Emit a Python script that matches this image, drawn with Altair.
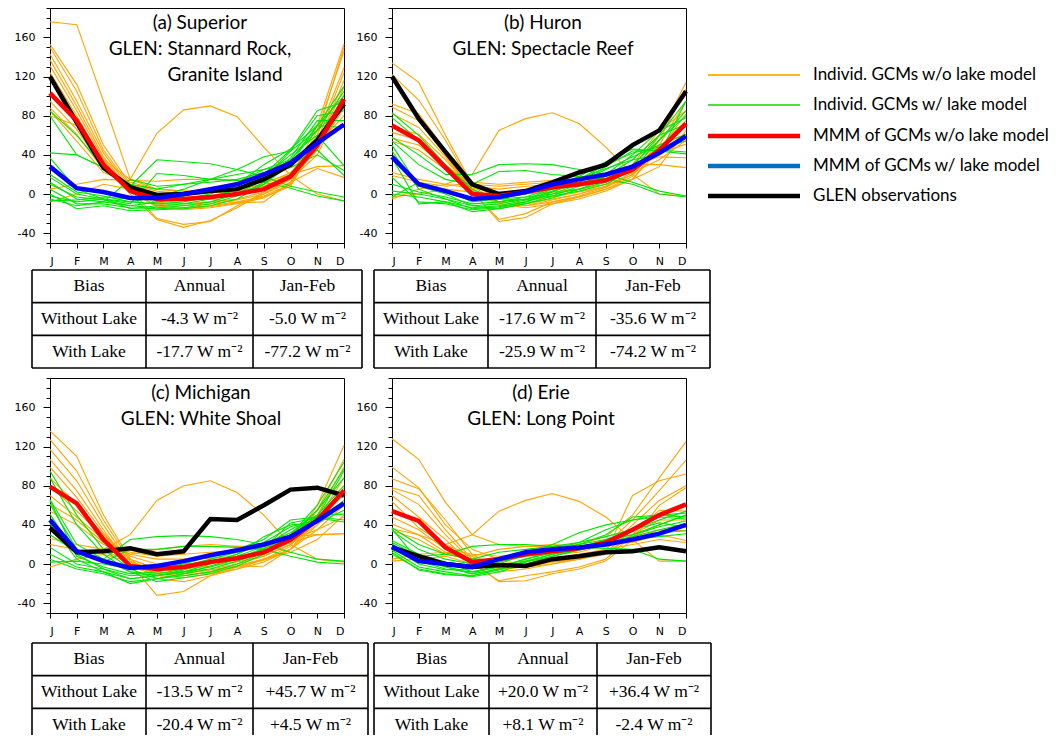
import json
import altair as alt
import pandas as pd

MONTH_LABELS = ["J", "F", "M", "A", "M", "J", "J", "A", "S", "O", "N", "D"]

# ---------------- (a) Superior ----------------
SUP_NOLAKE_GCMS = [
    [176, 173, 95, 15, 5, 3, 2, 0, 5, 20, 60, 150],
    [153, 112, 50, 10, -5, -10, -8, -5, 2, 15, 70, 153],
    [150, 105, 45, 8, -8, -12, -10, -6, 0, 12, 65, 146],
    [143, 95, 42, 5, -10, -14, -12, -8, -2, 10, 60, 129],
    [137, 90, 38, 3, -12, -15, -13, -9, -3, 8, 55, 124],
    [131, 85, 35, 2, -13, -16, -14, -10, -4, 10, 50, 116],
    [124, 80, 32, 0, -26, -34, -27, -14, 2, 17, 50, 109],
    [118, 77, 30, 5, -25, -31, -28, -12, 0, 15, 45, 102],
    [95, 66, 26, 8, 0, -5, -3, 0, 5, 15, 40, 95],
    [88, 61, 25, 10, 3, 0, 2, 3, 8, 20, 45, 88],
    [85, 54, 22, 12, 5, 3, 3, 5, 10, 22, 50, 80],
    [80, 70, 35, 15, 62, 86, 90, 79, 48, 19, 0, -7],
    [5, 10, 15, 14, 13, 15, 15, 14, 12, 20, 28, 29],
    [-8, 0, 10, 5, -2, -3, -5, -9, -8, 12, 26, 17],
]
SUP_LAKE_GCMS = [
    [85, 60, 28, 8, -5, -6, -5, 0, 10, 30, 70, 110],
    [80, 40, 27, 10, 5, 10, 15, 20, 25, 35, 65, 105],
    [42, 40, 27, 8, 35, 33, 31, 25, 18, 8, 2, -3],
    [37, 5, -5, -10, 21, 19, 15, 14, 12, 6, -2, -7],
    [17, 0, -5, -15, -12, -10, -5, 5, 20, 45, 85, 94],
    [12, -5, -8, -12, -14, -12, -8, 0, 15, 44, 80, 85],
    [5, -10, -10, -14, -15, -14, -10, -2, 12, 37, 75, 75],
    [0, -15, -12, -17, -16, -15, -12, -5, 10, 34, 70, 68],
    [-2, -8, -5, -8, -10, -8, -3, 5, 18, 40, 60, 29],
    [-5, -12, -8, 15, 8, 10, 12, 15, 22, 27, 40, 24],
    [-7, -6, -3, -5, -6, -2, 5, 12, 25, 30, 45, 19],
    [10, -3, -6, -12, -8, -5, 0, 10, 30, 46, 70, 100],
    [20, 2, -2, -8, -3, 5, 15, 25, 38, 44, 65, 90],
]
SUP_GLEN = [120, 73, 27, 7, -1, 0, 3, 5, 15, 30, 55, 92]
SUP_MMM_NOLAKE = [103, 75, 30, 3, -5, -5, -3, 0, 5, 18, 50, 97]
SUP_MMM_LAKE = [28, 6, 2, -4, -4, 0, 5, 10, 20, 32, 52, 71]
SUP_TITLE = ["(a) Superior", "GLEN: Stannard Rock,", "Granite Island"]
SUP_BIAS_ANNUAL = ["-4.3 W m⁻²", "-17.7 W m⁻²"]
SUP_BIAS_JANFEB = ["-5.0 W m⁻²", "-77.2 W m⁻²"]

# ---------------- (b) Huron ----------------
HUR_NOLAKE_GCMS = [
    [134, 114, 60, 10, -5, -10, -5, 0, 8, 20, 60, 114],
    [122, 96, 55, 8, -8, -12, -8, -3, 5, 18, 55, 107],
    [92, 82, 45, 5, -10, -14, -10, -5, 3, 15, 50, 95],
    [89, 75, 40, 3, -28, -24, -10, -3, 5, 15, 45, 82],
    [82, 68, 38, 2, -26, -20, -8, -2, 7, 20, 48, 75],
    [68, 61, 35, 5, -12, -12, -6, 0, 8, 22, 50, 61],
    [63, 55, 30, 8, 0, 2, 5, 8, 12, 25, 42, 51],
    [57, 50, 28, 10, 8, 10, 12, 14, 16, 28, 38, 37],
    [54, 45, 25, 8, 5, 8, 10, 12, 15, 30, 30, 27],
    [22, 15, 10, 20, 65, 77, 83, 72, 48, 20, 0, -2],
    [19, 12, 8, 12, 10, 12, 14, 15, 18, 22, 35, 55],
    [-3, 0, 5, 2, -5, -6, -3, 2, 8, 30, 65, 85],
    [-5, 5, 10, 6, 2, 0, 2, 5, 10, 15, 28, 65],
]
HUR_LAKE_GCMS = [
    [83, 60, 30, 5, -5, -3, 0, 5, 12, 28, 60, 95],
    [78, 55, 25, 3, -8, -5, -2, 3, 10, 25, 55, 85],
    [58, 40, 20, 20, 30, 31, 30, 25, 20, 12, 3, -2],
    [54, 30, 15, 10, 23, 24, 20, 18, 15, 10, 0, -3],
    [44, 5, -5, -15, -13, -8, 0, 10, 20, 40, 65, 78],
    [37, -10, -8, -18, -15, -10, -2, 8, 18, 35, 60, 71],
    [17, -8, -10, -16, -14, -8, 2, 12, 25, 38, 50, 61],
    [3, 0, -5, -12, -10, -5, 5, 15, 30, 42, 48, 54],
    [0, -3, -8, -14, -12, -6, 3, 12, 28, 44, 45, 43],
    [-3, 12, 5, -8, -5, 0, 8, 18, 33, 46, 44, 41],
    [10, 2, -3, -10, -8, -3, 6, 16, 26, 35, 40, 95],
    [50, 8, 0, -12, -15, -10, -4, 5, 15, 30, 55, 80],
]
HUR_GLEN = [120, 77, 43, 10, 0, 3, 12, 22, 30, 50, 65, 105]
HUR_MMM_NOLAKE = [70, 55, 27, 0, -2, 2, 7, 10, 14, 25, 45, 72]
HUR_MMM_LAKE = [38, 10, 3, -5, -3, 2, 10, 15, 20, 28, 42, 59]
HUR_TITLE = ["(b) Huron", "GLEN: Spectacle Reef"]
HUR_BIAS_ANNUAL = ["-17.6 W m⁻²", "-25.9 W m⁻²"]
HUR_BIAS_JANFEB = ["-35.6 W m⁻²", "-74.2 W m⁻²"]

# ---------------- (c) Michigan ----------------
MIC_NOLAKE_GCMS = [
    [136, 110, 50, 5, -5, -8, -5, 0, 8, 20, 60, 121],
    [127, 95, 45, 3, -8, -10, -6, -2, 5, 18, 55, 107],
    [117, 85, 40, 0, -10, -12, -8, -3, 4, 15, 50, 99],
    [107, 75, 35, -2, -12, -14, -10, -5, 2, 15, 45, 88],
    [99, 68, 32, 0, -32, -28, -12, -3, -2, 15, 40, 78],
    [88, 61, 30, 5, -5, -5, -2, 2, 8, 20, 45, 71],
    [80, 54, 28, 8, 0, 0, 2, 5, 10, 22, 40, 61],
    [70, 48, 25, 10, 5, 5, 6, 8, 12, 25, 35, 48],
    [61, 45, 22, 12, 8, 10, 12, 14, 16, 28, 30, 31],
    [54, 40, 20, 10, 15, 18, 20, 18, 18, 22, 30, 31],
    [26, 20, 15, 30, 65, 80, 85, 73, 50, 20, 5, 2],
    [20, 15, 12, 5, -15, -18, -12, -5, 5, 12, 25, 50],
    [-3, 5, 10, 2, -10, -12, -8, -2, 5, 15, 35, 60],
]
MIC_LAKE_GCMS = [
    [95, 50, 15, -5, -15, -12, -8, 0, 12, 30, 60, 104],
    [88, 40, 10, -8, -18, -14, -10, -2, 10, 28, 55, 97],
    [66, 20, 5, 25, 28, 29, 28, 25, 20, 12, 5, 3],
    [61, 15, 2, 15, 15, 18, 18, 17, 15, 8, 2, 0],
    [51, 10, -5, -15, -12, -8, -3, 5, 15, 30, 55, 88],
    [41, 5, -8, -20, -15, -10, -5, 3, 12, 28, 50, 80],
    [17, 0, -5, -12, -10, -5, 2, 10, 22, 38, 45, 65],
    [10, -3, -8, -15, -12, -8, 0, 8, 18, 35, 50, 51],
    [5, -5, -10, -18, -15, -10, -2, 6, 16, 42, 47, 43],
    [2, 3, 0, -5, -5, 0, 8, 15, 25, 45, 48, 45],
    [65, 8, -3, -10, -8, -2, 5, 12, 20, 32, 48, 95],
    [30, 12, 5, -8, -12, -6, 2, 10, 28, 40, 42, 55],
]
MIC_GLEN = [37, 12, 13, 16, 10, 13, 46, 45, 60, 76, 78, 70]
MIC_MMM_NOLAKE = [79, 62, 25, -2, -5, -3, 2, 6, 12, 25, 45, 75]
MIC_MMM_LAKE = [45, 13, 3, -4, -2, 3, 9, 14, 20, 28, 44, 62]
MIC_TITLE = ["(c) Michigan", "GLEN: White Shoal"]
MIC_BIAS_ANNUAL = ["-13.5 W m⁻²", "-20.4 W m⁻²"]
MIC_BIAS_JANFEB = ["+45.7 W m⁻²", "+4.5 W m⁻²"]

# ---------------- (d) Erie ----------------
ERI_NOLAKE_GCMS = [
    [128, 107, 63, 30, 20, 18, 18, 20, 28, 50, 88, 125],
    [99, 78, 40, 15, 5, 8, 10, 12, 20, 45, 75, 106],
    [87, 77, 45, 10, -5, -3, 2, 5, 12, 70, 85, 92],
    [78, 70, 35, 5, -3, 0, 5, 8, 15, 40, 65, 80],
    [76, 61, 30, 3, -18, -17, -10, -5, 3, 25, 60, 78],
    [70, 48, 25, 0, -17, -12, -8, -3, 5, 30, 55, 54],
    [64, 37, 20, 8, -8, -5, 0, 5, 12, 35, 50, 48],
    [48, 35, 15, 10, 8, 10, 12, 15, 20, 25, 35, 34],
    [41, 30, 12, 8, 15, 18, 20, 18, 20, 22, 30, 24],
    [36, 30, 20, 30, 54, 65, 72, 64, 48, 25, 3, 3],
    [34, 25, 10, 5, 0, 3, 6, 10, 15, 20, 25, 22],
    [5, 10, 12, 3, -5, -3, 0, 5, 10, 30, 45, 45],
    [3, 5, 8, 0, -3, 0, 3, 6, 12, 28, 40, 50],
]
ERI_LAKE_GCMS = [
    [37, 20, 10, 5, 12, 15, 18, 22, 28, 35, 45, 54],
    [34, 15, 5, 0, 5, 10, 15, 20, 25, 30, 40, 50],
    [24, 10, 2, -8, -3, 5, 12, 18, 24, 30, 38, 44],
    [20, 5, -3, -10, -5, 2, 10, 16, 22, 28, 35, 41],
    [14, -3, -8, -12, -5, 3, 10, 15, 22, 26, 32, 34],
    [10, -5, -10, -13, -8, 0, 8, 14, 20, 25, 28, 31],
    [36, 3, -5, -8, -3, 5, 12, 20, 30, 48, 50, 48],
    [18, 0, -6, -5, 2, 8, 15, 22, 35, 45, 48, 46],
    [22, 8, 10, 18, 20, 20, 18, 17, 16, 15, 5, 3],
    [15, 2, -2, -10, 0, 10, 20, 32, 40, 45, 50, 52],
    [12, -6, -11, -12, -6, 2, 8, 15, 25, 35, 42, 38],
]
ERI_GLEN = [17, 8, 0, -3, -1, -2, 5, 8, 12, 13, 17, 13]
ERI_MMM_NOLAKE = [54, 44, 17, 2, 5, 10, 13, 16, 22, 35, 50, 61]
ERI_MMM_LAKE = [18, 3, 0, -3, 5, 12, 15, 17, 20, 25, 31, 40]
ERI_TITLE = ["(d) Erie", "GLEN: Long Point"]
ERI_BIAS_ANNUAL = ["+20.0 W m⁻²", "+8.1 W m⁻²"]
ERI_BIAS_JANFEB = ["+36.4 W m⁻²", "-2.4 W m⁻²"]

TABLE_HEADER = ["Bias", "Annual", "Jan-Feb"]
TABLE_ROW_LABELS = ["Without Lake", "With Lake"]

LEGEND_LABELS = [
    "Individ. GCMs w/o lake model",
    "Individ. GCMs w/ lake model",
    "MMM of GCMs w/o lake model",
    "MMM of GCMs w/ lake model",
    "GLEN observations",
]

# ---------------- styles / layout ----------------
ORANGE = "#FFA500"
GREEN = "#00E600"
RED = "#FF0000"
BLUE = "#0000FF"
BLACK = "#000000"
LEGEND_COLORS = ["#FFB619", "#4CE03A", "#FF0000", "#0070C0", "#000000"]
LEGEND_WIDTHS = [1.8, 1.8, 4.5, 4.5, 4.5]
LEGEND_ROW_Y = [67, 97, 128, 158, 188]      # pixel rows of the hand-drawn key
LEGEND_X = (316, 408, 421)                   # rule start, rule end, text start (px)
TITLE_FONT = "Lato"
SERIF = "Liberation Serif"
W, H = 294, 235
Y_DOMAIN = [-50, 190]
ROW_PX = 98 / 3.0

X_AXIS = alt.Axis(
    values=list(range(12)),
    labelExpr=json.dumps(MONTH_LABELS) + "[datum.value]",
    title=None, tickSize=5, labelPadding=7, grid=False,
)
Y_MAJOR = alt.Axis(values=[-40, 0, 40, 80, 120, 160], title=None, tickSize=7,
                   labelExpr="'' + datum.value",
                   labelPadding=8, grid=False, orient="left")
Y_MINOR = alt.Axis(values=list(range(-50, 191, 10)), title=None, labels=False,
                   tickSize=4, domain=False, grid=False, orient="left")


def series_frame(lines, prefix):
    return pd.DataFrame([
        {"m": m, "v": v, "id": f"{prefix}{i}"}
        for i, vals in enumerate(lines) for m, v in enumerate(vals)
    ])


def panel(nolake, lake, glen, mmm_no, mmm_lake, title_lines, title_pos, with_key=False):
    x = alt.X("m:Q", scale=alt.Scale(domain=[0, 11], nice=False, zero=False), axis=X_AXIS)
    ys = alt.Scale(domain=Y_DOMAIN, nice=False, zero=False)
    layers = [
        alt.Chart(series_frame(nolake, "o")).mark_line(color=ORANGE, strokeWidth=1.1).encode(
            x=x, y=alt.Y("v:Q", scale=ys, axis=Y_MAJOR), detail="id:N"),
        alt.Chart(series_frame(lake, "g")).mark_line(color=GREEN, strokeWidth=1.1).encode(
            x=x, y=alt.Y("v:Q", scale=ys, axis=Y_MINOR), detail="id:N"),
    ]
    for vals, col in [(glen, BLACK), (mmm_no, RED), (mmm_lake, BLUE)]:
        layers.append(alt.Chart(series_frame([vals], "t")).mark_line(color=col, strokeWidth=4.5).encode(
            x=x, y=alt.Y("v:Q", scale=ys, axis=None)))
    for t, (tx, ty) in zip(title_lines, title_pos):
        layers.append(alt.Chart(pd.DataFrame({"t": [t]})).mark_text(
            font=TITLE_FONT, fontSize=19, color="black", baseline="middle", align="center"
        ).encode(text="t:N", x=alt.value(tx), y=alt.value(ty)))
    if with_key:
        for lab, col, sw, yy in zip(LEGEND_LABELS, LEGEND_COLORS, LEGEND_WIDTHS, LEGEND_ROW_Y):
            one = pd.DataFrame({"t": [lab]})
            layers.append(alt.Chart(one).mark_rule(color=col, strokeWidth=sw).encode(
                x=alt.value(LEGEND_X[0]), x2=alt.value(LEGEND_X[1]), y=alt.value(yy)))
            layers.append(alt.Chart(one).mark_text(
                font=TITLE_FONT, fontSize=17, color="black", align="left", baseline="middle"
            ).encode(text="t:N", x=alt.value(LEGEND_X[2]), y=alt.value(yy)))
    return alt.layer(*layers).resolve_axis(y="independent").properties(
        width=W, height=H, view=alt.ViewBackground(stroke="black", strokeWidth=1))


def table(annual, janfeb, col_widths, gap_above, view_h):
    texts = [TABLE_HEADER,
             [TABLE_ROW_LABELS[0], annual[0], janfeb[0]],
             [TABLE_ROW_LABELS[1], annual[1], janfeb[1]]]
    edges = [0]
    for w in col_widths:
        edges.append(edges[-1] + w)
    total = edges[-1]
    ymax = (view_h - gap_above) / ROW_PX          # rows that fit in this view
    cells = pd.DataFrame([
        {"xc": (edges[c] + edges[c + 1]) / 2, "yc": r + 0.5, "t": texts[r][c]}
        for r in range(3) for c in range(3)
    ])
    hlines = pd.DataFrame([{"y": r, "x": 0, "x2": total} for r in range(4) if r <= ymax])
    vlines = pd.DataFrame([{"x": e, "y": 0, "y2": 3} for e in edges])
    xs = alt.Scale(domain=[0, total], range=[-18, total - 18], nice=False, zero=False)
    ys = alt.Scale(domain=[0, ymax], range=[gap_above, view_h], nice=False, zero=False, clamp=True)
    h = alt.Chart(hlines).mark_rule(color="black", strokeWidth=1.6).encode(
        x=alt.X("x:Q", scale=xs, axis=None), x2="x2:Q", y=alt.Y("y:Q", scale=ys, axis=None))
    v = alt.Chart(vlines).mark_rule(color="black", strokeWidth=1.6).encode(
        x=alt.X("x:Q", scale=xs, axis=None), y=alt.Y("y:Q", scale=ys, axis=None), y2="y2:Q")
    text = alt.Chart(cells).mark_text(font=SERIF, fontSize=17.5, baseline="middle", align="center",
                                      color="black").encode(
        x=alt.X("xc:Q", scale=xs, axis=None), y=alt.Y("yc:Q", scale=ys, axis=None), text="t:N")
    return alt.layer(h, v, text).properties(width=W, height=view_h)


pa = panel(SUP_NOLAKE_GCMS, SUP_LAKE_GCMS, SUP_GLEN, SUP_MMM_NOLAKE, SUP_MMM_LAKE,
           SUP_TITLE, [(150, 15), (150, 41), (175, 67)])
pb = panel(HUR_NOLAKE_GCMS, HUR_LAKE_GCMS, HUR_GLEN, HUR_MMM_NOLAKE, HUR_MMM_LAKE,
           HUR_TITLE, [(151, 15), (151, 41)], with_key=True)
pc = panel(MIC_NOLAKE_GCMS, MIC_LAKE_GCMS, MIC_GLEN, MIC_MMM_NOLAKE, MIC_MMM_LAKE,
           MIC_TITLE, [(151, 15), (151, 41)])
pd_ = panel(ERI_NOLAKE_GCMS, ERI_LAKE_GCMS, ERI_GLEN, ERI_MMM_NOLAKE, ERI_MMM_LAKE,
            ERI_TITLE, [(149, 15), (149, 41)])

ta = table(SUP_BIAS_ANNUAL, SUP_BIAS_JANFEB, [114, 107, 109], 27, 135)
tb = table(HUR_BIAS_ANNUAL, HUR_BIAS_JANFEB, [114, 108, 114], 27, 135)
tc = table(MIC_BIAS_ANNUAL, MIC_BIAS_JANFEB, [114, 107, 115], 30, 122)
td = table(ERI_BIAS_ANNUAL, ERI_BIAS_JANFEB, [115, 108, 114], 30, 122)

chart = alt.concat(
    pa, pb, ta, tb, pc, pd_, tc, td,
    columns=2, spacing={"row": 0, "column": 48}, bounds="flush",
).properties(
    padding={"left": 13, "top": 7, "right": 0, "bottom": 0},
    background="white",
).configure_view(strokeWidth=0).configure_axis(
    labelFont="DejaVu Sans", labelFontSize=11, labelColor="black",
    domainColor="black", tickColor="black", domainWidth=1, tickWidth=1,
)

chart.save("out.html", embed_options={"renderer": "svg", "actions": False})
